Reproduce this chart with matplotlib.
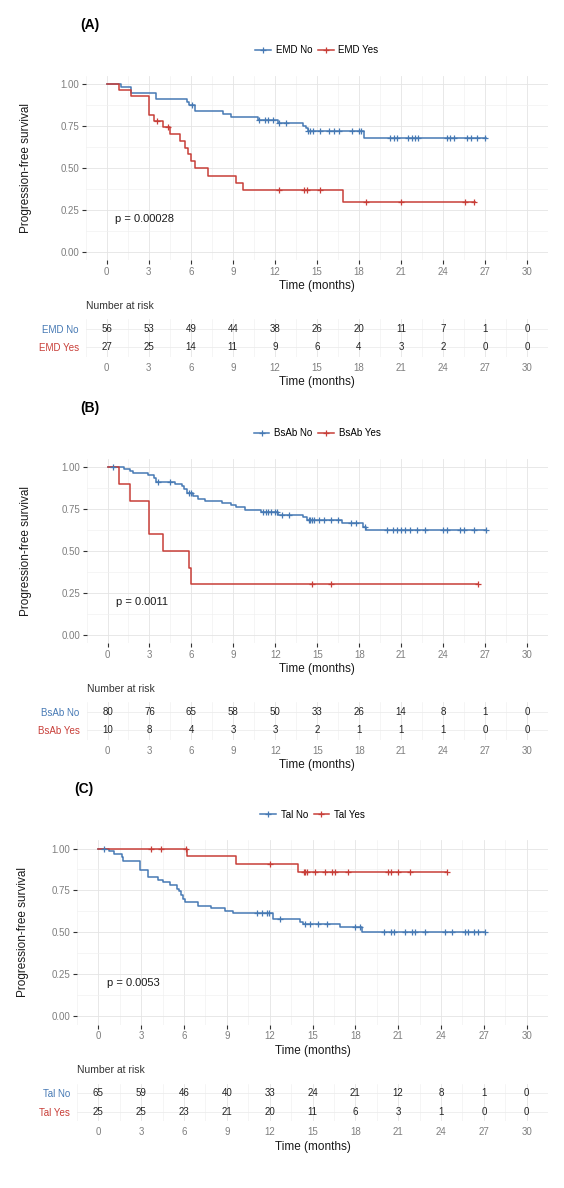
import numpy as np
import matplotlib

matplotlib.use("Agg")
import matplotlib.pyplot as plt
from matplotlib.lines import Line2D
from matplotlib.ticker import FormatStrFormatter, MultipleLocator

plt.rcParams["font.family"] = ["Liberation Sans", "DejaVu Sans"]

BLUE = "#4679B4"
RED = "#C83E38"

RISK_TIMES = [0, 3, 6, 9, 12, 15, 18, 21, 24, 27, 30]

# --------------------------------------------------------------------------- #
# (A) EMD
# --------------------------------------------------------------------------- #
emd_labels = ["EMD No", "EMD Yes"]
emd_no_t = [0, 1.0, 1.7, 3.5, 5.7, 5.9, 6.3, 8.3, 8.85, 10.8, 12.2, 14.0, 14.2,
            14.35, 18.4, 27.1]
emd_no_s = [1.0, 0.982, 0.946, 0.911, 0.893, 0.875, 0.839, 0.821, 0.804, 0.786,
            0.768, 0.75, 0.737, 0.72, 0.677, 0.677]
emd_no_cens = [6.1, 10.9, 11.3, 11.5, 11.9, 12.3, 12.8, 14.4, 14.5, 14.7, 15.2,
               15.9, 16.25, 16.6, 17.5, 18.0, 18.15, 20.2, 20.5, 20.7, 21.5,
               21.8, 22.0, 22.2, 24.3, 24.5, 24.8, 25.75, 26.0, 26.4, 27.0]
emd_yes_t = [0, 0.9, 1.7, 3.0, 3.4, 4.0, 4.55, 5.25, 5.6, 5.8, 6.0, 6.3, 7.2,
             9.2, 9.75, 16.9, 26.3]
emd_yes_s = [1.0, 0.963, 0.926, 0.815, 0.778, 0.741, 0.70, 0.66, 0.62, 0.58,
             0.54, 0.50, 0.45, 0.41, 0.37, 0.296, 0.296]
emd_yes_cens = [3.6, 4.4, 12.3, 14.1, 14.3, 15.25, 18.5, 21.0, 25.6, 26.2]
emd_risk_no = [56, 53, 49, 44, 38, 26, 20, 11, 7, 1, 0]
emd_risk_yes = [27, 25, 14, 11, 9, 6, 4, 3, 2, 0, 0]
emd_p = "p = 0.00028"

# --------------------------------------------------------------------------- #
# (B) BsAb
# --------------------------------------------------------------------------- #
bsab_labels = ["BsAb No", "BsAb Yes"]
bsab_no_t = [0, 1.2, 1.6, 1.8, 2.9, 3.3, 3.5, 4.8, 5.3, 5.5, 5.7, 6.1, 6.5, 7.0,
             8.2, 8.8, 9.2, 9.8, 11.0, 12.2, 14.0, 14.3, 16.8, 18.3, 18.5, 27.1]
bsab_no_s = [1.0, 0.987, 0.975, 0.962, 0.95, 0.937, 0.91, 0.897, 0.884, 0.871,
             0.846, 0.827, 0.812, 0.797, 0.787, 0.775, 0.760, 0.745, 0.730,
             0.715, 0.70, 0.684, 0.665, 0.645, 0.625, 0.625]
bsab_no_cens = [0.4, 3.6, 4.5, 5.8, 6.0, 11.1, 11.3, 11.5, 11.7, 12.0, 12.1,
                12.5, 13.0, 14.4, 14.5, 14.6, 14.8, 15.1, 15.5, 16.0, 16.5,
                17.4, 17.8, 18.4, 20.0, 20.4, 20.7, 21.0, 21.3, 21.6, 22.1,
                22.7, 24.0, 24.3, 25.2, 25.5, 26.2, 27.1]
bsab_yes_t = [0, 0.85, 1.6, 3.0, 4.0, 5.8, 6.0, 26.5]
bsab_yes_s = [1.0, 0.9, 0.8, 0.6, 0.5, 0.4, 0.3, 0.3]
bsab_yes_cens = [14.6, 16.0, 26.5]
bsab_risk_no = [80, 76, 65, 58, 50, 33, 26, 14, 8, 1, 0]
bsab_risk_yes = [10, 8, 4, 3, 3, 2, 1, 1, 1, 0, 0]
bsab_p = "p = 0.0011"

# --------------------------------------------------------------------------- #
# (C) Tal
# --------------------------------------------------------------------------- #
tal_labels = ["Tal No", "Tal Yes"]
tal_no_t = [0, 0.75, 1.13, 1.64, 1.76, 2.95, 3.45, 4.15, 4.53, 5.03, 5.54, 5.66,
            5.8, 5.9, 6.04, 6.97, 7.9, 8.9, 9.4, 12.2, 14.1, 14.35, 16.9, 18.5,
            27.1]
tal_no_s = [1.0, 0.985, 0.97, 0.95, 0.928, 0.874, 0.83, 0.81, 0.80, 0.785, 0.76,
            0.745, 0.725, 0.70, 0.68, 0.66, 0.645, 0.625, 0.615, 0.578, 0.562,
            0.55, 0.53, 0.50, 0.50]
tal_no_cens = [0.38, 11.1, 11.45, 11.8, 11.95, 12.7, 14.5, 14.8, 15.4, 16.0,
               18.0, 18.3, 20.0, 20.5, 20.7, 21.5, 22.0, 22.2, 22.9, 24.3,
               24.8, 25.7, 25.9, 26.3, 26.6, 27.1]
tal_yes_t = [0, 6.2, 9.64, 14.0, 24.4]
tal_yes_s = [1.0, 0.955, 0.909, 0.862, 0.862]
tal_yes_cens = [3.7, 4.4, 6.17, 12.0, 14.4, 14.5, 14.6, 15.2, 15.9, 16.4, 16.6,
                17.5, 20.3, 20.5, 21.0, 21.8, 24.4]
tal_risk_no = [65, 59, 46, 40, 33, 24, 21, 12, 8, 1, 0]
tal_risk_yes = [25, 25, 23, 21, 20, 11, 6, 3, 1, 0, 0]
tal_p = "p = 0.0053"

# --------------------------------------------------------------------------- #
# Layout helpers (pixel based, 564 x 1188)
# --------------------------------------------------------------------------- #
W, H = 564, 1188
fig = plt.figure(figsize=(W / 100, H / 100), dpi=100)


def fx(px):
    return px / W


def fy(py):
    return 1 - py / H


def style_grid(ax):
    ax.xaxis.set_major_locator(MultipleLocator(3))
    ax.xaxis.set_minor_locator(MultipleLocator(1.5))
    ax.grid(which="major", axis="x", color="#E4E4E4", lw=0.6)
    ax.grid(which="minor", axis="x", color="#F0F0F0", lw=0.45)
    for s in ax.spines.values():
        s.set_visible(False)
    ax.set_axisbelow(True)


def km(ax, t, s, cens, color):
    t = np.asarray(t)
    s = np.asarray(s)
    ax.step(t, s, where="post", color=color, lw=1.1, zorder=3)
    c = np.asarray(cens)
    cy = s[np.searchsorted(t, c, side="right") - 1]
    ax.plot(c, cy, ls="none", marker="+", color=color, ms=4.5, mew=0.9, zorder=4)


def panel(letter, dy, x0, x30, labels, no, yes, risk_no, risk_yes, ptxt,
          ylab_x, letter_x):
    k = (x30 - x0) / 30
    left, right = x0 - 1.5 * k, x30 + 1.5 * k
    y1, y0 = 84 + dy, 251.7 + dy
    hh = y0 - y1
    top, bot = y1 - 0.05 * hh, y0 + 0.05 * hh

    ax = fig.add_axes([fx(left), fy(bot), (right - left) / W, (bot - top) / H])
    style_grid(ax)
    ax.yaxis.set_major_locator(MultipleLocator(0.25))
    ax.yaxis.set_minor_locator(MultipleLocator(0.125))
    ax.grid(which="major", axis="y", color="#E4E4E4", lw=0.6)
    ax.grid(which="minor", axis="y", color="#F0F0F0", lw=0.45)
    ax.set_xlim(-1.5, 31.5)
    ax.set_ylim(-0.05, 1.05)
    ax.yaxis.set_major_formatter(FormatStrFormatter("%.2f"))
    ax.tick_params(which="major", length=2.75, width=0.8, color="#333333",
                   labelsize=7, labelcolor="#7F7F7F", pad=2.0)
    ax.tick_params(which="minor", length=0)

    km(ax, no[0], no[1], no[2], BLUE)
    km(ax, yes[0], yes[1], yes[2], RED)
    ax.text(0.6, 0.195, ptxt, fontsize=8, ha="left", va="center", color="#1A1A1A")

    ax.set_xlabel("Time (months)", fontsize=8.5, color="#1A1A1A", labelpad=2.5)
    ax.set_ylabel("Progression-free survival", fontsize=8.5, color="#1A1A1A")
    ax.yaxis.set_label_coords((ylab_x - left) / (right - left), 0.5)

    handles = [Line2D([], [], color=BLUE, lw=1.1, marker="+", ms=5, mew=0.9),
               Line2D([], [], color=RED, lw=1.1, marker="+", ms=5, mew=0.9)]
    ax.legend(handles, labels, loc="center", ncol=2, frameon=False,
              bbox_to_anchor=(0.5, (bot - (50 + dy)) / (bot - top)),
              fontsize=7, handlelength=1.6, handletextpad=0.5,
              columnspacing=0.6, borderaxespad=0)

    fig.text(fx(letter_x), fy(25 + dy), letter, fontsize=10, fontweight="bold",
             ha="left", va="center")

    # risk table
    r1, r0 = 328.7 + dy, 347.3 + dy
    step = r0 - r1
    ttop, tbot = r1 - 0.5 * step, r0 + 0.5 * step
    tx = fig.add_axes([fx(left), fy(tbot), (right - left) / W, (tbot - ttop) / H])
    style_grid(tx)
    tx.set_xlim(-1.5, 31.5)
    tx.set_ylim(-0.5, 1.5)
    tx.set_yticks([1, 0])
    tx.set_yticklabels(labels)
    tx.grid(which="major", axis="y", color="#ECECEC", lw=0.6)
    for lab, col in zip(tx.get_yticklabels(), [BLUE, RED]):
        lab.set_color(col)
    tx.tick_params(axis="y", length=0, labelsize=7, pad=5)
    tx.tick_params(axis="x", which="both", length=0, labelsize=7,
                   labelcolor="#7F7F7F", pad=4.5)
    for tt, a, b in zip(RISK_TIMES, risk_no, risk_yes):
        tx.text(tt, 1, str(a), ha="center", va="center", fontsize=7, color="#222222")
        tx.text(tt, 0, str(b), ha="center", va="center", fontsize=7, color="#222222")
    tx.set_xlabel("Time (months)", fontsize=8.5, color="#1A1A1A", labelpad=2.5)
    fig.text(fx(left), fy(305.7 + dy), "Number at risk", fontsize=7.5,
             color="#333333", ha="left", va="center")


panel("(A)", 0, 106.7, 527.0, emd_labels,
      (emd_no_t, emd_no_s, emd_no_cens), (emd_yes_t, emd_yes_s, emd_yes_cens),
      emd_risk_no, emd_risk_yes, emd_p, 32, 80)
panel("(B)", 383, 107.5, 527.0, bsab_labels,
      (bsab_no_t, bsab_no_s, bsab_no_cens), (bsab_yes_t, bsab_yes_s, bsab_yes_cens),
      bsab_risk_no, bsab_risk_yes, bsab_p, 32, 80)
panel("(C)", 764.5, 98.3, 526.7, tal_labels,
      (tal_no_t, tal_no_s, tal_no_cens), (tal_yes_t, tal_yes_s, tal_yes_cens),
      tal_risk_no, tal_risk_yes, tal_p, 29, 74)

fig.savefig("out.png", dpi=100, facecolor="white")
